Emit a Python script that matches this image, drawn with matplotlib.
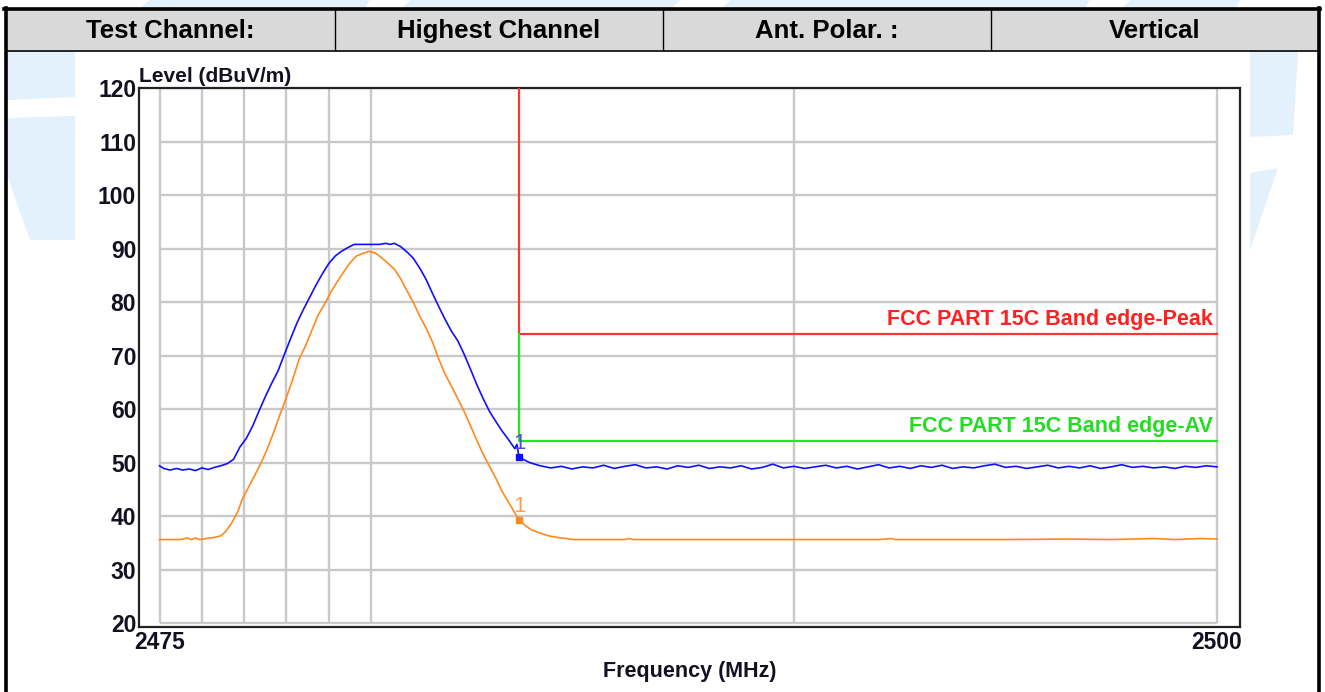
import matplotlib
matplotlib.use("Agg")
import matplotlib.pyplot as plt
from matplotlib.patches import Polygon, Rectangle
from matplotlib.lines import Line2D

plt.rcParams['font.family'] = ['Liberation Sans', 'DejaVu Sans']
plt.rcParams['font.weight'] = 'bold'

# header row
header_cells = ["Test Channel:", "Highest Channel", "Ant. Polar. :", "Vertical"]

# axis setup
y_ticks = [20, 30, 40, 50, 60, 70, 80, 90, 100, 110, 120]
x_grid = [2475, 2476, 2477, 2478, 2479, 2480, 2490, 2500]
x_labels = [2475, 2500]

# limits
band_edge = 2483.5
peak_limit = 74
av_limit = 54
peak_label = "FCC PART 15C Band edge-Peak"
av_label = "FCC PART 15C Band edge-AV"

# peak trace (blue)
blue_freq = [2475.00, 2475.10, 2475.25, 2475.40, 2475.55, 2475.70, 2475.85, 2476.00,
             2476.15, 2476.30, 2476.45, 2476.60, 2476.75, 2476.90, 2477.05, 2477.20,
             2477.35, 2477.50, 2477.65, 2477.80, 2477.95, 2478.10, 2478.25, 2478.40,
             2478.55, 2478.70, 2478.85, 2479.00, 2479.15, 2479.30, 2479.45, 2479.60,
             2479.80, 2480.00, 2480.20, 2480.35, 2480.45, 2480.55, 2480.70, 2480.85,
             2481.00, 2481.15, 2481.30, 2481.45, 2481.60, 2481.75, 2481.90, 2482.05,
             2482.20, 2482.35, 2482.50, 2482.65, 2482.80, 2482.95, 2483.10, 2483.25,
             2483.40, 2483.45, 2483.50, 2483.75,
             2484.00, 2484.25, 2484.50, 2484.75, 2485.00, 2485.25, 2485.50, 2485.75,
             2486.00, 2486.25, 2486.50, 2486.75, 2487.00, 2487.25, 2487.50, 2487.75,
             2488.00, 2488.25, 2488.50, 2488.75, 2489.00, 2489.25, 2489.50, 2489.75,
             2490.00, 2490.25, 2490.50, 2490.75, 2491.00, 2491.25, 2491.50, 2491.75,
             2492.00, 2492.25, 2492.50, 2492.75, 2493.00, 2493.25, 2493.50, 2493.75,
             2494.00, 2494.25, 2494.50, 2494.75, 2495.00, 2495.25, 2495.50, 2495.75,
             2496.00, 2496.25, 2496.50, 2496.75, 2497.00, 2497.25, 2497.50, 2497.75,
             2498.00, 2498.25, 2498.50, 2498.75, 2499.00, 2499.25, 2499.50, 2499.75,
             2500.00]
blue_level = [49.4, 48.9, 48.6, 48.9, 48.6, 48.8, 48.5, 49.0,
              48.7, 49.1, 49.4, 49.8, 50.6, 52.9, 54.5, 56.8,
              59.6, 62.3, 64.8, 67.1, 70.2, 73.2, 76.1, 78.6,
              80.9, 83.2, 85.3, 87.2, 88.6, 89.5, 90.2, 90.8,
              90.8, 90.8, 90.8, 91.0, 90.8, 91.0, 90.4, 89.4,
              88.2, 86.4, 84.3, 81.7, 79.2, 76.8, 74.6, 72.8,
              70.3, 67.5, 64.6, 62.0, 59.6, 57.7, 55.9, 54.3,
              52.6, 53.4, 51.0, 50.0,
              49.4, 49.0, 49.3, 48.8, 49.2, 49.0, 49.5, 48.9,
              49.3, 49.6, 49.0, 49.2, 48.8, 49.4, 49.1, 49.5,
              48.9, 49.2, 49.0, 49.4, 48.8, 49.1, 49.7, 49.0,
              49.3, 48.9, 49.2, 49.5, 49.0, 49.3, 48.8, 49.2,
              49.6, 49.0, 49.3, 48.9, 49.4, 49.1, 49.5, 48.9,
              49.2, 49.0, 49.4, 49.7, 49.1, 49.3, 48.9, 49.2,
              49.5, 49.0, 49.3, 49.0, 49.4, 48.9, 49.2, 49.6,
              49.1, 49.3, 49.0, 49.2, 48.9, 49.3, 49.1, 49.4,
              49.2]

# average trace (orange)
orange_freq = [2475.00, 2475.50, 2475.65, 2475.75, 2475.85, 2475.95, 2476.10, 2476.30,
               2476.45, 2476.55, 2476.70, 2476.85, 2476.95, 2477.10, 2477.25, 2477.40,
               2477.55, 2477.70, 2477.85, 2478.00, 2478.15, 2478.30, 2478.45, 2478.60,
               2478.75, 2478.90, 2479.05, 2479.20, 2479.35, 2479.50, 2479.65, 2479.80,
               2479.95, 2480.10, 2480.25, 2480.40, 2480.55, 2480.70, 2480.85, 2481.00,
               2481.15, 2481.30, 2481.45, 2481.60, 2481.75, 2481.90, 2482.05, 2482.20,
               2482.35, 2482.50, 2482.65, 2482.80, 2482.95, 2483.10, 2483.25, 2483.40,
               2483.50, 2483.65, 2483.80, 2484.00, 2484.20, 2484.40, 2484.60, 2484.80,
               2486.00, 2486.10, 2486.20, 2490.00, 2492.00, 2492.30, 2492.40, 2495.00,
               2496.50, 2497.50, 2498.50, 2499.00, 2499.60, 2500.00]
orange_level = [35.6, 35.6, 35.9, 35.6, 35.9, 35.6, 35.8, 36.0,
                36.3, 37.0, 38.6, 40.8, 43.0, 45.3, 47.6, 49.9,
                52.6, 55.7, 59.0, 62.2, 65.6, 69.3, 71.8, 74.7,
                77.6, 79.6, 81.9, 83.8, 85.6, 87.3, 88.6, 89.1,
                89.5, 89.2, 88.3, 87.3, 86.2, 84.4, 82.1, 80.0,
                77.4, 75.2, 72.6, 69.4, 66.6, 64.3, 62.0, 59.6,
                56.9, 54.2, 51.6, 49.3, 47.1, 44.6, 42.6, 40.6,
                39.3, 38.2, 37.4, 36.8, 36.3, 36.0, 35.8, 35.6,
                35.6, 35.8, 35.6, 35.6, 35.6, 35.8, 35.6, 35.6,
                35.7, 35.6, 35.8, 35.6, 35.8, 35.7]

# marker 1 readings at the band edge
blue_marker = 51.0
orange_marker = 39.3

W, H = 1325, 692
fig = plt.figure(figsize=(W / 100, H / 100), dpi=100)


def fx(px):
    return px / W


def fy(py):
    return 1 - py / H


def fig_poly(points, **kw):
    p = Polygon([(fx(a), fy(b)) for a, b in points], closed=True,
                transform=fig.transFigure, **kw)
    fig.add_artist(p)


# faint watermark shapes around the chart
wm = '#e2f1fb'
fig_poly([(150, 0), (370, 0), (365, 8), (140, 8)], color=wm, lw=0)
fig_poly([(410, 0), (680, 0), (672, 8), (402, 8)], color=wm, lw=0)
fig_poly([(730, 0), (1090, 0), (1085, 8), (722, 8)], color=wm, lw=0)
fig_poly([(1130, 0), (1240, 0), (1236, 8), (1122, 8)], color=wm, lw=0)
fig_poly([(7, 51), (75, 51), (75, 97), (7, 100)], color=wm, lw=0)
fig_poly([(7, 118), (75, 116), (75, 240), (30, 240), (7, 175)], color=wm, lw=0)
fig_poly([(1250, 51), (1298, 51), (1293, 135), (1250, 137)], color=wm, lw=0)
fig_poly([(1250, 173), (1278, 168), (1250, 250)], color=wm, lw=0)

# header table
fig.add_artist(Rectangle((fx(6), fy(50)), fx(1318) - fx(6), fy(10) - fy(50),
                         transform=fig.transFigure, facecolor='#d9d9d9',
                         edgecolor='none'))
fig.add_artist(Line2D([fx(4), fx(1320)], [fy(9), fy(9)], transform=fig.transFigure,
                      color='black', lw=2.6))
fig.add_artist(Line2D([fx(6), fx(1318)], [fy(50.5), fy(50.5)], transform=fig.transFigure,
                      color='black', lw=1.2))
fig.add_artist(Line2D([fx(6), fx(6)], [fy(8), fy(692)], transform=fig.transFigure,
                      color='black', lw=2.6))
fig.add_artist(Line2D([fx(1318.5), fx(1318.5)], [fy(8), fy(692)], transform=fig.transFigure,
                      color='black', lw=2.6))
col_edges = [6, 335, 663, 991, 1318]
for xe in col_edges[1:-1]:
    fig.add_artist(Line2D([fx(xe), fx(xe)], [fy(10), fy(50)], transform=fig.transFigure,
                          color='black', lw=1.0))
for i, txt in enumerate(header_cells):
    cx = (col_edges[i] + col_edges[i + 1]) / 2
    fig.text(fx(cx), fy(31), txt, ha='center', va='center', fontsize=18.5,
             fontweight='bold', color='black')

# chart
ax = fig.add_axes([fx(139), fy(627), fx(1240) - fx(139), fy(88) - fy(627)])
ax.set_xlim(2474.515, 2500.545)
ax.set_ylim(19.25, 120.05)
for s in ax.spines.values():
    s.set_color('#222222')
    s.set_linewidth(1.6)

grid_c = '#c9c9c9'
ax.hlines(y_ticks, x_grid[0], x_grid[-1], color=grid_c, lw=1.7, zorder=1)
ax.vlines(x_grid, y_ticks[0], y_ticks[-1], color=grid_c, lw=1.7, zorder=1)

ax.set_yticks(y_ticks)
ax.set_yticklabels([str(v) for v in y_ticks])
ax.set_xticks(x_labels)
ax.set_xticklabels([str(v) for v in x_labels])
ax.tick_params(axis='both', length=0, labelsize=16.5, colors='#111122')
ax.tick_params(axis='y', pad=2)
ax.tick_params(axis='x', pad=3)
for lab in ax.get_xticklabels() + ax.get_yticklabels():
    lab.set_fontweight('bold')

ax.text(0.0, 1.003, "Level (dBuV/m)", transform=ax.transAxes, ha='left', va='bottom',
        fontsize=15, fontweight='bold', color='#111122')
ax.set_xlabel("Frequency (MHz)", fontsize=15.5, fontweight='bold', color='#111122',
              labelpad=5)

# limit lines
ax.plot([band_edge, band_edge, x_grid[-1]], [y_ticks[-1], peak_limit, peak_limit],
        color='#ff3535', lw=1.6, zorder=3)
ax.plot([band_edge, band_edge, x_grid[-1]], [peak_limit, av_limit, av_limit],
        color='#22e822', lw=1.6, zorder=3)
ax.text(2499.9, peak_limit + 0.8, peak_label, ha='right', va='bottom', fontsize=15.5,
        fontweight='bold', color='#ff2020')
ax.text(2499.9, av_limit + 0.8, av_label, ha='right', va='bottom', fontsize=15.5,
        fontweight='bold', color='#22dd22')

# traces
ax.plot(orange_freq, orange_level, color='#ff8a1c', lw=1.2, zorder=4)
ax.plot(blue_freq, blue_level, color='#1010ff', lw=1.2, zorder=5)

# markers
ax.plot([band_edge], [blue_marker], 's', color='#1010ff', ms=4, zorder=6)
ax.plot([band_edge], [orange_marker], 's', color='#ff8a1c', ms=4, zorder=6)
ax.text(band_edge, blue_marker + 0.6, "1", ha='center', va='bottom', fontsize=16,
        fontweight='normal', color='#5a4ae0', zorder=7)
ax.text(band_edge, orange_marker + 0.6, "1", ha='center', va='bottom', fontsize=16,
        fontweight='normal', color='#ffa050', zorder=7)

fig.savefig("out.png", dpi=100, facecolor='white')
